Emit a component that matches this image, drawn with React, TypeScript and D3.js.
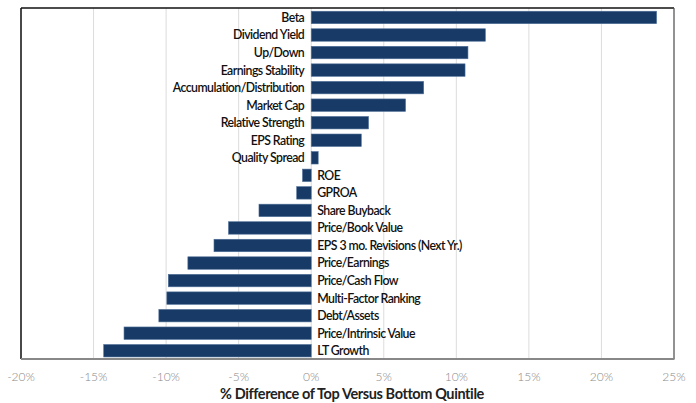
import React from "react";
import * as d3 from "d3";

const categories = [
  "Beta", "Dividend Yield", "Up/Down", "Earnings Stability", "Accumulation/Distribution",
  "Market Cap", "Relative Strength", "EPS Rating", "Quality Spread", "ROE", "GPROA",
  "Share Buyback", "Price/Book Value", "EPS 3 mo. Revisions (Next Yr.)", "Price/Earnings",
  "Price/Cash Flow", "Multi-Factor Ranking", "Debt/Assets", "Price/Intrinsic Value", "LT Growth",
];
const values = [
  23.8, 12.0, 10.8, 10.6, 7.75, 6.5, 3.95, 3.45, 0.48, -0.6, -1.0,
  -3.6, -5.7, -6.7, -8.5, -9.85, -9.95, -10.5, -12.9, -14.3,
];
const tickValues = [-20, -15, -10, -5, 0, 5, 10, 15, 20, 25];
const axisTitle = "% Difference of Top Versus Bottom Quintile";

export default function App() {
  const W = 696, H = 403;
  const left = 21, right = 674, top = 8, bottom = 359;
  const x = d3.scaleLinear().domain([-20, 25]).range([left, right]);
  const y = d3.scaleBand<string>().domain(categories).range([top + 0.6, bottom + 0.6]).paddingInner(0.29).paddingOuter(0.15);
  const font = "Lato, 'Open Sans', sans-serif";
  return (
    <svg width={W} height={H} style={{ position: "absolute", left: 0, top: 0, background: "#fff" }}>
      {tickValues.map((t) => (
        <line key={t} x1={x(t)} x2={x(t)} y1={top} y2={bottom} stroke="#dcdcdc" strokeWidth={1} />
      ))}
      {categories.map((c, i) => {
        const v = values[i];
        const x0 = x(Math.min(0, v));
        const x1 = x(Math.max(0, v));
        const yy = y(c)!;
        const h = y.bandwidth();
        return (
          <g key={c}>
            <rect x={x0} y={yy} width={x1 - x0} height={h} fill="#173b66" stroke="#4f6f99" strokeWidth={0.6} />
            <text
              x={v >= 0 ? x(0) - 7 : x(0) + 6}
              y={yy + h / 2}
              dy="0.36em"
              textAnchor={v >= 0 ? "end" : "start"}
              fontFamily={font}
              fontSize={12.3}
              fontWeight={600}
              fill="#111"
              letterSpacing={-0.55}
            >
              {c}
            </text>
          </g>
        );
      })}
      <line x1={left} x2={left} y1={top} y2={bottom} stroke="#111" strokeWidth={1.5} />
      <line x1={left} x2={right} y1={top} y2={top} stroke="#111" strokeWidth={1.5} />
      <line x1={right} x2={right} y1={top} y2={bottom} stroke="#555" strokeWidth={1.2} />
      <line x1={left} x2={right + 0.5} y1={bottom} y2={bottom} stroke="#888" strokeWidth={2} />
      {tickValues.map((t) => (
        <text key={"l" + t} x={x(t)} y={381} textAnchor="middle" fontFamily={font} fontSize={12} fontWeight={300} fill="#8a8a8a">
          {t + "%"}
        </text>
      ))}
      <text x={352} y={399} textAnchor="middle" fontFamily={font} fontSize={14.5} fontWeight={700} fill="#222" letterSpacing={-0.4}>
        {axisTitle}
      </text>
    </svg>
  );
}
